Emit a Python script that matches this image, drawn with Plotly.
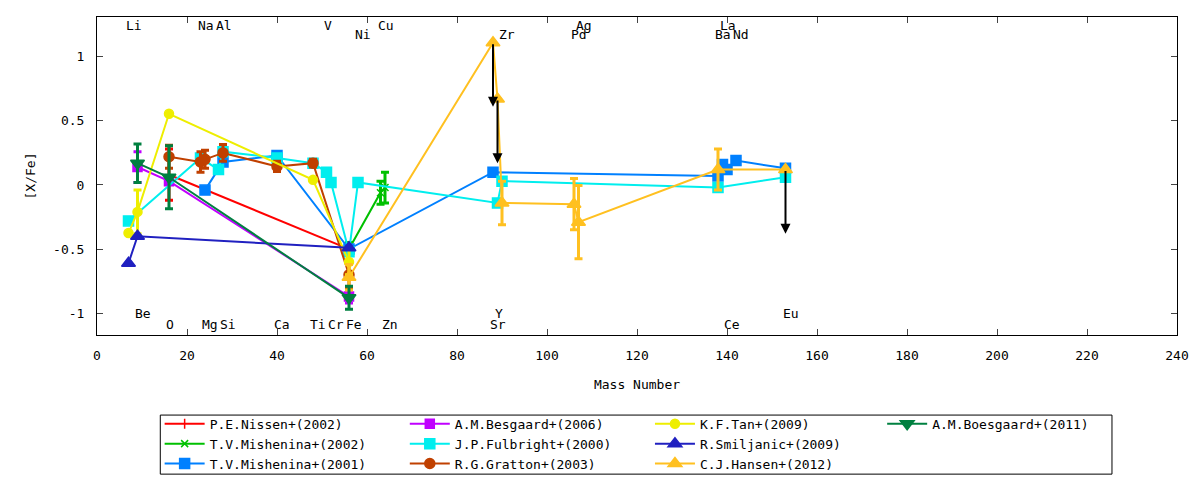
import plotly.graph_objects as go

# element labels along the top and bottom of the frame
element_names = ["Li", "Be", "O", "Na", "Mg", "Al", "Si", "Ca", "Ti", "V", "Cr", "Fe", "Ni",
                 "Cu", "Zn", "Sr", "Y", "Zr", "Pd", "Ag", "Ba", "La", "Ce", "Nd", "Eu"]
element_mass = [7, 9, 16, 23, 24, 27, 28, 40, 48, 51, 52, 56, 58,
                63, 64, 88, 89, 90, 106, 107, 138, 139, 140, 142, 153]
element_row = ["tA", "bA", "bB", "tA", "bB", "tA", "bB", "bB", "bB", "tA", "bB", "bB", "tB",
               "tA", "bB", "bB", "bA", "tB", "tB", "tA", "tB", "tA", "bB", "tB", "bA"]
row_y = {"tA": 1.244, "tB": 1.174, "bA": -1.0, "bB": -1.086}

# data series: mass number, [X/Fe], error
nissen_x = [16, 56]
nissen_y = [0.08, -0.50]
nissen_e = [0.2, 0.05]

mish02_x = [56, 63, 64]
mish02_y = [-0.50, -0.06, -0.02]
mish02_e = [0.05, 0.09, 0.12]

mish01_x = [24, 28, 40, 56, 88, 138, 139, 140, 142, 153]
mish01_y = [-0.04, 0.18, 0.23, -0.50, 0.10, 0.07, 0.16, 0.12, 0.19, 0.13]

besg06_x = [9, 16, 56]
besg06_y = [0.14, 0.03, -0.87]
besg06_e = [0.12, None, 0.05]

fulb_x = [7, 23, 27, 28, 40, 48, 51, 52, 56, 58, 89, 90, 138, 153]
fulb_y = [-0.28, 0.21, 0.12, 0.26, 0.21, 0.17, 0.10, 0.02, -0.52, 0.02, -0.14, 0.03, -0.02, 0.06]

gratton_x = [16, 23, 24, 28, 40, 48, 56]
gratton_y = [0.22, 0.18, 0.20, 0.25, 0.145, 0.17, -0.70]
gratton_e = [0.09, 0.08, 0.07, 0.065, 0.04, 0.03, 0.1]

tan_x = [7, 9, 16, 48, 56]
tan_y = [-0.375, -0.21, 0.555, 0.04, -0.60]
tan_e = [None, 0.17, None, None, 0.1]

smil_x = [7, 9, 56]
smil_y = [-0.61, -0.40, -0.49]

hansen_x = [56, 88, 89, 90, 106, 107, 138, 153]
hansen_y = [-0.72, 1.11, 0.67, -0.14, -0.15, -0.29, 0.12, 0.12]
hansen_e = [0.1, None, None, 0.17, 0.2, 0.285, 0.16, None]
hansen_limit_x = [88, 89, 153]
hansen_limit_y = [1.11, 0.67, 0.12]
limit_len = 0.5

boes11_x = [9, 16, 56]
boes11_y = [0.17, 0.06, -0.88]
boes11_e = [0.15, 0.245, 0.09]

y_ticks = [-1, -0.5, 0, 0.5, 1]
y_tick_text = ["-1", "-0.5", "0", "0.5", "1"]

FONT = "DejaVu Sans Mono"

fig = go.Figure()


def add(name, x, y, color, symbol, size, err=None, legend="legend"):
    tr = dict(x=x, y=y, name=name, mode="lines+markers", legend=legend,
              line=dict(color=color, width=2),
              marker=dict(color=color, symbol=symbol, size=size,
                          line=dict(color=color, width=1.5)))
    if err is not None:
        tr["error_y"] = dict(type="data", array=err, color=color, thickness=3, width=4)
    fig.add_trace(go.Scatter(**tr))


add("P.E.Nissen+(2002)", nissen_x, nissen_y, "#ff0000", "line-ns", 7, nissen_e)
add("T.V.Mishenina+(2002)", mish02_x, mish02_y, "#00c000", "x-thin", 7, mish02_e)
add("T.V.Mishenina+(2001)", mish01_x, mish01_y, "#0080ff", "square", 10)
add("A.M.Besgaard+(2006)", besg06_x, besg06_y, "#c000ff", "square", 9, besg06_e, "legend2")
add("J.P.Fulbright+(2000)", fulb_x, fulb_y, "#00eeee", "square", 10, None, "legend2")
add("R.G.Gratton+(2003)", gratton_x, gratton_y, "#c04000", "circle", 10, gratton_e, "legend2")
add("K.F.Tan+(2009)", tan_x, tan_y, "#eeee00", "circle", 9, tan_e, "legend3")
add("R.Smiljanic+(2009)", smil_x, smil_y, "#2020c0", "triangle-up", 12, None, "legend3")
add("C.J.Hansen+(2012)", hansen_x, hansen_y, "#ffc020", "triangle-up", 12, hansen_e, "legend3")
add("A.M.Boesgaard+(2011)", boes11_x, boes11_y, "#008040", "triangle-down", 12, boes11_e, "legend4")

# upper-limit arrows
for lx, ly in zip(hansen_limit_x, hansen_limit_y):
    fig.add_annotation(x=lx, y=ly - limit_len, ax=lx, ay=ly, xref="x", yref="y",
                       axref="x", ayref="y", text="", showarrow=True,
                       arrowhead=2, arrowsize=1, arrowwidth=2, arrowcolor="black")

for name, m, r in zip(element_names, element_mass, element_row):
    fig.add_annotation(x=m, y=row_y[r], text=name, showarrow=False, xanchor="left",
                       xshift=-5, yanchor="middle", font=dict(family=FONT, size=13, color="black"))

# legend frame
fig.add_shape(type="rect", xref="paper", yref="paper", x0=0.0586, x1=0.9398,
              y0=-0.4375, y1=-0.2518, line=dict(color="black", width=1))

leg = dict(orientation="v", yanchor="top", y=-0.232, xanchor="left",
           bgcolor="rgba(0,0,0,0)", font=dict(family=FONT, size=13, color="black"),
           tracegroupgap=0, itemwidth=40)

fig.update_layout(
    width=1200, height=480,
    margin=dict(l=97, r=23, t=17, b=145, autoexpand=False),
    paper_bgcolor="white", plot_bgcolor="white",
    font=dict(family=FONT, size=13, color="black"),
    showlegend=True,
    legend=dict(leg, x=0.058),
    legend2=dict(leg, x=0.285),
    legend3=dict(leg, x=0.512),
    legend4=dict(leg, x=0.727),
    xaxis=dict(range=[0, 240], dtick=20, ticks="inside", ticklen=6, mirror="ticks",
               showline=True, linecolor="black", linewidth=1, showgrid=False, zeroline=False,
               ticklabelstandoff=8,
               title=dict(text="Mass Number", standoff=18, font=dict(size=13)),
               tickfont=dict(size=13)),
    yaxis=dict(range=[-1.17, 1.31], tickvals=y_ticks, ticktext=y_tick_text, ticks="inside",
               ticklen=6, mirror="ticks", showline=True, linecolor="black", linewidth=1,
               showgrid=False, zeroline=False, ticklabelstandoff=9,
               title=dict(text="[X/Fe]", standoff=14, font=dict(size=13)),
               tickfont=dict(size=13)),
)

fig.write_html("out.html", config={"displayModeBar": False},
               post_script="document.body.style.margin='0';")
